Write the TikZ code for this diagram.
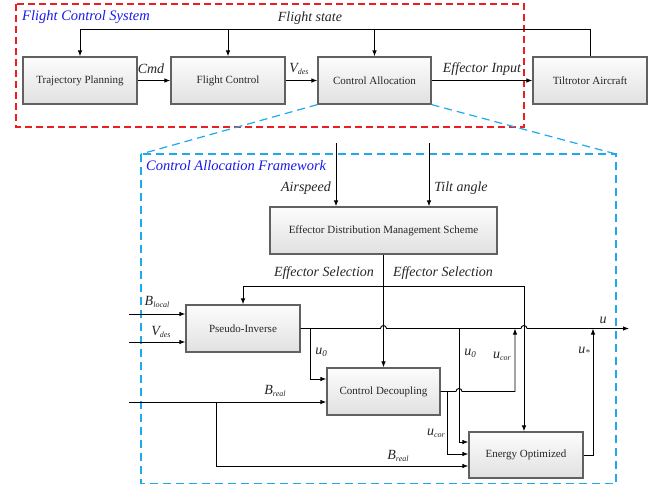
\documentclass[tikz,border=0pt]{standalone}
\usepackage{fontspec}
\setmainfont{Liberation Serif}
\usetikzlibrary{arrows.meta}
\definecolor{cablue}{RGB}{30,170,235}
\definecolor{tblue}{RGB}{25,25,235}
\definecolor{fred}{RGB}{235,30,35}
\newcommand{\lbl}[2]{\textit{#1}{\fontsize{8}{8}\selectfont\raisebox{-0.5ex}{\textit{#2}}}}
\newcommand{\lblu}[2]{\textit{#1}{\fontsize{9}{9}\selectfont\raisebox{-0.5ex}{#2}}}
\begin{document}
\begin{tikzpicture}[x=1pt,y=-1pt,
  box/.style={draw=black!62, line width=1.2pt, top color=gray!2, bottom color=gray!24, text=black!85, font=\fontsize{11}{13}\selectfont, inner sep=0pt},
  conn/.style={line width=0.9pt, draw=black},
  arr/.style={conn, -{Latex[length=6pt,width=4.5pt]}},
  lab/.style={font=\fontsize{14}{16}\selectfont\itshape, text=black!85, inner sep=0pt},
  ttl/.style={font=\fontsize{14.5}{16}\selectfont\itshape, text=tblue, inner sep=0pt, anchor=west},
  reddash/.style={draw=fred, line width=1.5pt, dash pattern=on 7pt off 4pt},
  bluedash/.style={draw=cablue, line width=1.5pt, dash pattern=on 8pt off 5pt},
]
\useasboundingbox (0,0) rectangle (656,485);

% frames
\draw[reddash] (16,4) rectangle (524,127);
\coordinate (bTL) at (141,154);
\coordinate (bTR) at (616,154);
\draw[bluedash] (bTL) rectangle (616,483.5);

% top boxes
\node[box, minimum width=114pt, minimum height=47pt] (TP) at (80,80.5) {Trajectory Planning};
\node[box, minimum width=114pt, minimum height=47pt] (FC) at (228,80.5) {Flight Control};
\node[box, minimum width=113pt, minimum height=47pt] (CA) at (374.5,80.5) {Control Allocation};
\node[box, minimum width=114pt, minimum height=47pt] (TA) at (590,80.5) {Tiltrotor Aircraft};

\draw[bluedash, line width=1.2pt] (CA.south west) -- (bTL);
\draw[bluedash, line width=1.2pt] (CA.south east) -- (bTR);

% lower boxes
\node[box, minimum width=227pt, minimum height=47pt] (ED) at (383.5,230.5) {Effector Distribution Management Scheme};
\node[box, minimum width=114pt, minimum height=47pt] (PI) at (243,328.5) {Pseudo-Inverse};
\node[box, minimum width=113pt, minimum height=47pt] (CD) at (383.5,391.5) {Control Decoupling};
\node[box, minimum width=114pt, minimum height=46pt] (EO) at (526,455) {Energy Optimized};

% top connectors
\coordinate (fs) at (590,29);
\draw[conn] (TA.north) -- (fs);
\draw[arr] (fs) -| (TP.north);
\draw[arr] (FC.north |- fs) -- (FC.north);
\draw[arr] (CA.north |- fs) -- (CA.north);
\draw[arr] (TP) -- (FC);
\draw[arr] (FC) -- (CA);
\draw[arr] (CA) -- (TA);

\node[lab] (lfs) at (310,18) {Flight state};
\node[lab] (lcmd) at (151,69) {Cmd};
\node[lab] (lvd) at (299,69) {\lbl{V}{des}};
\node[lab] (lei) at (482,69) {Effector Input};
\node[ttl] (t1) at (22,17) {Flight Control System};
\node[ttl] (t2) at (146,166) {Control Allocation Framework};

% framework inputs
\coordinate (asT) at (336,143);
\coordinate (taT) at (429,143);
\draw[arr] (asT) -- (asT |- ED.north);
\draw[arr] (taT) -- (taT |- ED.north);
\node[lab] (las) at (306,188) {Airspeed};
\node[lab] (lta) at (461,188) {Tilt angle};

% effector selection
\draw[arr] (ED.south) -- (CD.north);
\coordinate (esR) at (524,286);
\draw[arr] (esR) -- (esR -| PI.north) -- (PI.north);
\draw[arr] (esR) -- (esR |- EO.north);
\node[lab] (les1) at (324,273) {Effector Selection};
\node[lab] (les2) at (443,273) {Effector Selection};

% inputs to PI
\coordinate (bl) at (129,314);
\coordinate (vd) at (129,342);
\draw[arr] (bl) -- (bl -| PI.west);
\draw[arr] (vd) -- (vd -| PI.west);
\node[lab] (lbl) at (157,302) {\lbl{B}{local}};
\node[lab] (lvd2) at (161,332) {\lbl{V}{des}};

% u line
\coordinate (uEnd) at (629,328.5);
\draw[arr] (PI.east) -- ([xshift=-3pt]CD.north |- PI.east) arc[start angle=180,end angle=0,radius=3pt]
  -- ([xshift=-3pt]esR |- PI.east) arc[start angle=180,end angle=0,radius=3pt] -- (uEnd);
\node[lab] (lu) at (603,320) {u};

% u0 to CD
\coordinate (j1) at (310,328.5);
\draw[arr] (j1) |- ([yshift=12.5pt]CD.west);
\node[lab] (lu01) at (321,352) {\lblu{u}{0}};

% B_real
\coordinate (brIn) at (129,402);
\coordinate (br2) at (216,402);
\draw[arr] (brIn) -- (brIn -| CD.west);
\draw[arr] (br2) |- ([yshift=-11pt]EO.west);
\node[lab] (lbr1) at (275,391) {\lbl{B}{real}};
\node[lab] (lbr2) at (398,456) {\lbl{B}{real}};

% u0 to EO
\coordinate (u0b) at (459,328.5);
\draw[arr] (u0b) |- ([yshift=13pt]EO.west);
\node[lab] (lu02) at (470,353) {\lblu{u}{0}};

% CD output
\coordinate (co) at (515,391.5);
\draw[arr] (CD.east) -- ([xshift=-3pt]u0b |- CD.east) arc[start angle=180,end angle=0,radius=3pt] -- (co) -- (co |- PI.east);
\coordinate (cb) at (447,391.5);
\draw[arr] (cb) |- ([yshift=1pt]EO.west);
\node[lab] (luc1) at (502,356) {\lbl{u}{cor}};
\node[lab] (luc2) at (436,433) {\lbl{u}{cor}};

% EO output
\coordinate (uo) at (593,328.5);
\draw[arr] (EO.east) -| (uo);
\node[lab] (lus) at (584,351) {\lblu{u}{*}};
\end{tikzpicture}
\end{document}
